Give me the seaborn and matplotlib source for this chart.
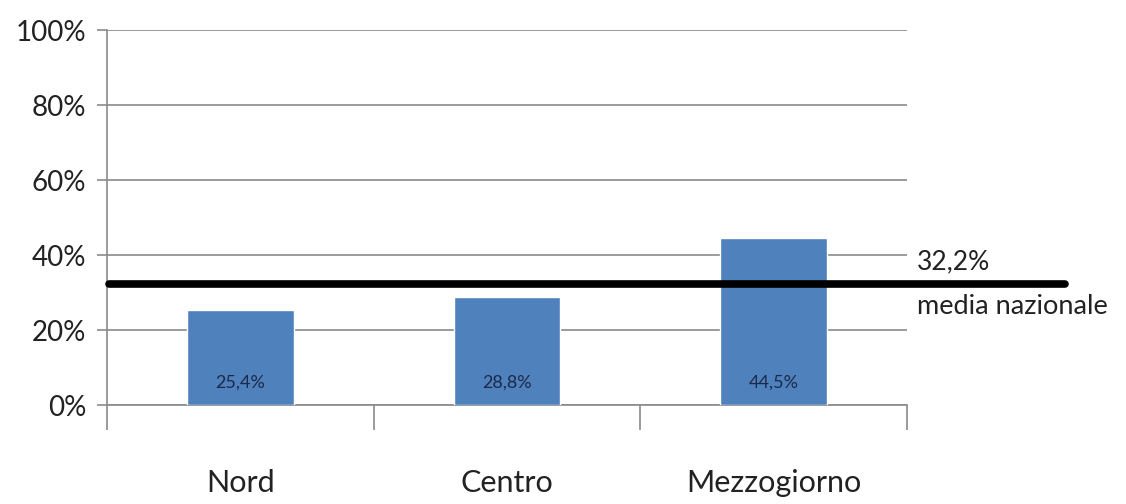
import matplotlib
matplotlib.use("Agg")
import matplotlib.pyplot as plt
import seaborn as sns
import pandas as pd
from matplotlib.ticker import FixedLocator, PercentFormatter

sns.set_theme(style="white")
plt.rcParams["font.family"] = ["Lato", "DejaVu Sans"]

# data
regions = ["Nord", "Centro", "Mezzogiorno"]
shares = [25.4, 28.8, 44.5]
value_labels = ["25,4%", "28,8%", "44,5%"]
national_mean = 32.2
mean_label = "32,2%"
mean_caption = "media nazionale"
y_ticks = [0, 20, 40, 60, 80, 100]

df = pd.DataFrame({"region": regions, "share": shares})

fig = plt.figure(figsize=(11.26, 5.04), dpi=100)
ax = fig.add_axes([0.095, 0.196, 0.7105, 0.744])

sns.barplot(data=df, x="region", y="share", color="#4F81BD", width=0.4,
            saturation=1, ax=ax, zorder=3)

ax.set_ylim(0, 100)
ax.set_xlim(-0.5, 2.5)
ax.set_yticks(y_ticks)
ax.yaxis.set_major_formatter(PercentFormatter(decimals=0))
ax.grid(axis="y", color="#8a8a8a", linewidth=1.2, zorder=0)
ax.set_xlabel("")
ax.set_ylabel("")

for s in ["top", "right"]:
    ax.spines[s].set_visible(False)
for s in ["left", "bottom"]:
    ax.spines[s].set_color("#8a8a8a")
    ax.spines[s].set_linewidth(1.2)

ax.tick_params(axis="y", which="major", left=True, length=7, width=1.2,
               color="#8a8a8a", labelsize=20, labelcolor="#222222", pad=8)
ax.tick_params(axis="x", which="major", bottom=False, labelsize=22,
               labelcolor="#222222", pad=40)
ax.xaxis.set_minor_locator(FixedLocator([-0.5, 0.5, 1.5, 2.5]))
ax.tick_params(axis="x", which="minor", bottom=True, length=18, width=1.2,
               color="#8a8a8a")

# value labels inside the bars
for i, lab in enumerate(value_labels):
    ax.text(i, 6, lab, ha="center", va="center", fontsize=13,
            color="#1b2a4a", zorder=4)

# national mean line, reaching past the plot area
ax.axhline(national_mean, xmin=0.003, xmax=1.197, color="black",
           linewidth=5.5, clip_on=False, zorder=5)
ax.text(1.012, national_mean + 6, mean_label, transform=ax.get_yaxis_transform(),
        ha="left", va="center", fontsize=19, color="#222222")
ax.text(1.012, national_mean - 6, mean_caption, transform=ax.get_yaxis_transform(),
        ha="left", va="center", fontsize=19.5, color="#222222")

fig.savefig("out.png", dpi=100)
